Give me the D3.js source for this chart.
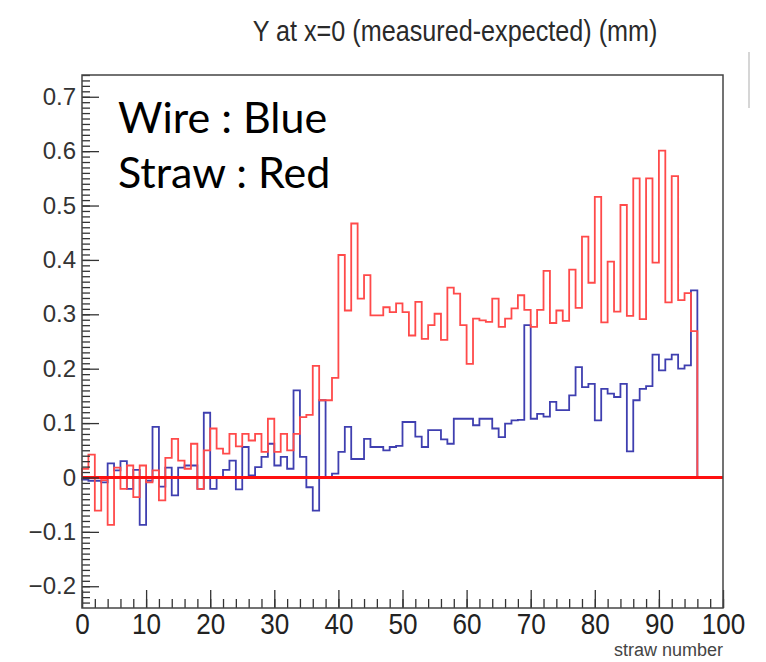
<!DOCTYPE html>
<html>
<head>
<meta charset="utf-8">
<script src="https://cdn.jsdelivr.net/npm/d3@7"></script>
<style>
  body { margin: 0; background: #fff; }
</style>
</head>
<body>
<svg id="chart" width="766" height="662"></svg>
<script>
// chart data, one value per straw (bin width 1, straws 0..95)
var straw = d3.range(96)

var wire = [
  -0.004, -0.006, -0.006, -0.009, 0.026, 0.013, 0.030, -0.021, 0.014, -0.087,
  -0.006, 0.093, -0.017, 0.018, -0.033, 0.018, 0.022, 0.022, -0.021, 0.119,
  -0.021, 0.000, 0.014, 0.031, -0.022, 0.056, 0.004, 0.019, 0.038, 0.062,
  0.022, 0.038, 0.016, 0.160, 0.038, -0.018, -0.061, 0.142, 0.001, 0.007,
  0.047, 0.093, 0.034, 0.034, 0.071, 0.056, 0.056, 0.050, 0.056, 0.058,
  0.102, 0.102, 0.075, 0.056, 0.087, 0.087, 0.070, 0.062, 0.108, 0.108,
  0.108, 0.096, 0.108, 0.108, 0.090, 0.074, 0.099, 0.105, 0.106, 0.280,
  0.108, 0.117, 0.112, 0.139, 0.124, 0.124, 0.151, 0.203, 0.166, 0.172,
  0.105, 0.163, 0.154, 0.148, 0.172, 0.048, 0.142, 0.163, 0.168, 0.226,
  0.197, 0.217, 0.226, 0.200, 0.206, 0.344
]

var strawTube = [
  0.016, 0.042, -0.061, -0.005, -0.087, 0.018, -0.021, 0.022, -0.036, 0.022,
  -0.009, 0.013, -0.042, 0.036, 0.071, 0.031, 0.016, 0.062, -0.021, 0.050,
  0.090, 0.053, 0.044, 0.080, 0.057, 0.080, 0.068, 0.080, 0.047, 0.108,
  0.047, 0.080, 0.050, 0.080, 0.111, 0.115, 0.205, 0.142, 0.142, 0.183,
  0.409, 0.307, 0.467, 0.329, 0.372, 0.298, 0.298, 0.313, 0.304, 0.320,
  0.304, 0.261, 0.323, 0.255, 0.280, 0.301, 0.253, 0.349, 0.338, 0.280,
  0.209, 0.292, 0.289, 0.286, 0.329, 0.277, 0.292, 0.311, 0.335, 0.308,
  0.277, 0.308, 0.380, 0.284, 0.307, 0.288, 0.382, 0.312, 0.443, 0.358,
  0.516, 0.285, 0.397, 0.305, 0.501, 0.297, 0.550, 0.291, 0.550, 0.395,
  0.601, 0.322, 0.554, 0.326, 0.339, 0.269
]

var xMajor = d3.range(0, 101, 10)
var xMinor = d3.range(0, 101, 2)
var yMajor = d3.range(-2, 8).map(function(d){ return d / 10 })
var yMinor = d3.range(-23, 75).map(function(d){ return d / 100 })

var svg = d3.select("#chart")

var x = d3.scaleLinear().domain([0, 100]).range([82, 723])
var y = d3.scaleLinear().domain([-0.24, 0.74]).range([608, 75])

var helv = "'Liberation Sans', Arial, sans-serif"

// title (the screenshot squeezes the text a bit sideways)
svg.append("text")
  .attr("transform", "translate(455,41) scale(0.84,1)")
  .attr("text-anchor", "middle")
  .style("font-family", helv)
  .style("font-size", "30px")
  .style("fill", "#2a2a2a")
  .text("Y at x=0 (measured-expected)  (mm)")

// stray grey line from the screenshot
svg.append("line")
  .attr("x1", 749).attr("x2", 749)
  .attr("y1", 52).attr("y2", 108)
  .style("stroke", "#c8c8c8")
  .style("stroke-width", 1.5)

// step outline like a ROOT histogram
function stepPoints(vals) {
  var pts = [[0, 0]]
  vals.forEach(function(v, i){
    pts.push([straw[i], v])
    pts.push([straw[i] + 1, v])
  })
  pts.push([straw[vals.length - 1] + 1, 0])
  return pts
}

var line = d3.line()
  .x(function(d){ return x(d[0]) })
  .y(function(d){ return y(d[1]) })

svg.append("path")
  .datum(stepPoints(wire))
  .attr("d", line)
  .style("fill", "none")
  .style("stroke", "#3f3fb0")
  .style("stroke-width", 1.8)

svg.append("path")
  .datum(stepPoints(strawTube))
  .attr("d", line)
  .style("fill", "none")
  .style("stroke", "#ff4a4a")
  .style("stroke-width", 1.8)

// zero line
svg.append("line")
  .attr("x1", x(0)).attr("x2", x(100))
  .attr("y1", y(0)).attr("y2", y(0))
  .style("stroke", "#ff1010")
  .style("stroke-width", 3)

// axes, ticks drawn inside the frame
svg.append("g")
  .attr("transform", "translate(" + x(0) + ",0)")
  .call(d3.axisLeft(y).tickValues(yMinor).tickSize(-8).tickFormat(""))
var yAxis = svg.append("g")
  .attr("transform", "translate(" + x(0) + ",0)")
  .call(d3.axisLeft(y).tickValues(yMajor).tickSize(-17).tickPadding(6)
    .tickFormat(d3.format(".1~f")))

svg.append("g")
  .attr("transform", "translate(0," + y(-0.24) + ")")
  .call(d3.axisBottom(x).tickValues(xMinor).tickSize(-9).tickFormat(""))
var xAxis = svg.append("g")
  .attr("transform", "translate(0," + y(-0.24) + ")")
  .call(d3.axisBottom(x).tickValues(xMajor).tickSize(-18).tickPadding(5))

svg.selectAll(".domain").remove()
svg.selectAll(".tick line").style("stroke", "#333").style("stroke-width", 1.3)

yAxis.selectAll("text")
  .style("font-family", helv)
  .style("font-size", "24px")
  .style("fill", "#333")
xAxis.selectAll("text")
  .attr("transform", "scale(0.87,1)")
  .style("font-family", helv)
  .style("font-size", "30px")
  .style("fill", "#222")

// frame
svg.append("rect")
  .attr("x", x(0)).attr("y", y(0.74))
  .attr("width", x(100) - x(0))
  .attr("height", y(-0.24) - y(0.74))
  .style("fill", "none")
  .style("stroke", "#444")
  .style("stroke-width", 1.5)

svg.append("text")
  .attr("x", x(100))
  .attr("y", 656)
  .attr("text-anchor", "end")
  .style("font-family", helv)
  .style("font-size", "18px")
  .style("fill", "#444")
  .text("straw number")

// legend text
var keys = ["Wire : Blue", "Straw : Red"]
svg.selectAll("legendlabels")
  .data(keys)
  .enter()
  .append("text")
    .attr("x", 118)
    .attr("y", function(d, i){ return 133 + i * 55 })
    .style("font-family", "Lato, 'Open Sans', sans-serif")
    .style("font-size", "43px")
    .style("fill", "#000")
    .text(function(d){ return d })
</script>
</body>
</html>
